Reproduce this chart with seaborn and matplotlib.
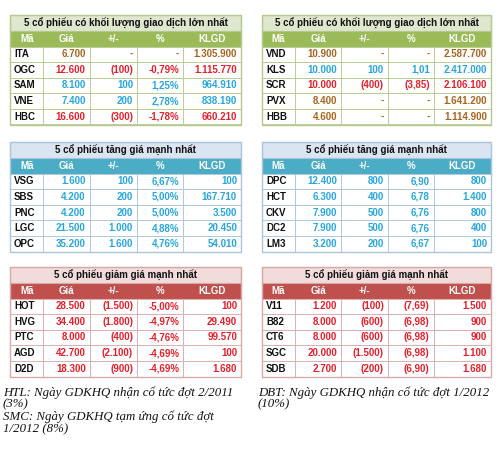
import matplotlib.pyplot as plt
import seaborn as sns
from matplotlib.patches import Rectangle

sns.set_theme(style="white")
plt.rcParams['font.family'] = ['Liberation Sans', 'DejaVu Sans']

# ---- data ----
headers = ["Mã", "Giá", "+/-", "%", "KLGD"]

t1_title = "5 cổ phiếu có khối lượng giao dịch lớn nhất"
t1_left = [["ITA", "6.700", "-", "-", "1.305.900", "ref"],
           ["OGC", "12.600", "(100)", "-0,79%", "1.115.770", "dn"],
           ["SAM", "8.100", "100", "1,25%", "964.910", "up"],
           ["VNE", "7.400", "200", "2,78%", "838.190", "up"],
           ["HBC", "16.600", "(300)", "-1,78%", "660.210", "dn"]]
t1_right = [["VND", "10.900", "-", "-", "2.587.700", "ref"],
            ["KLS", "10.000", "100", "1,01", "2.417.000", "up"],
            ["SCR", "10.000", "(400)", "(3,85)", "2.106.100", "dn"],
            ["PVX", "8.400", "-", "-", "1.641.200", "ref"],
            ["HBB", "4.600", "-", "-", "1.114.900", "ref"]]

t2_title = "5 cổ phiếu tăng giá mạnh nhất"
t2_left = [["VSG", "1.600", "100", "6,67%", "100", "up"],
           ["SBS", "4.200", "200", "5,00%", "167.710", "up"],
           ["PNC", "4.200", "200", "5,00%", "3.500", "up"],
           ["LGC", "21.500", "1.000", "4,88%", "20.450", "up"],
           ["OPC", "35.200", "1.600", "4,76%", "54.010", "up"]]
t2_right = [["DPC", "12.400", "800", "6,90", "800", "up"],
            ["HCT", "6.300", "400", "6,78", "1.400", "up"],
            ["CKV", "7.900", "500", "6,76", "800", "up"],
            ["DC2", "7.900", "500", "6,76", "400", "up"],
            ["LM3", "3.200", "200", "6,67", "100", "up"]]

t3_title = "5 cổ phiếu giảm giá mạnh nhất"
t3_left = [["HOT", "28.500", "(1.500)", "-5,00%", "100", "dn"],
           ["HVG", "34.400", "(1.800)", "-4,97%", "29.490", "dn"],
           ["PTC", "8.000", "(400)", "-4,76%", "99.570", "dn"],
           ["AGD", "42.700", "(2.100)", "-4,69%", "100", "dn"],
           ["D2D", "18.300", "(900)", "-4,69%", "1.680", "dn"]]
t3_right = [["V11", "1.200", "(100)", "(7,69)", "1.500", "dn"],
            ["B82", "8.000", "(600)", "(6,98)", "900", "dn"],
            ["CT6", "8.000", "(600)", "(6,98)", "900", "dn"],
            ["SGC", "20.000", "(1.500)", "(6,98)", "1.100", "dn"],
            ["SDB", "2.700", "(200)", "(6,90)", "1.680", "dn"]]

note_left = "HTL: Ngày GDKHQ nhận cổ tức đợt 2/2011\n(3%)\nSMC: Ngày GDKHQ tạm ứng cổ tức đợt\n1/2012 (8%)"
note_right = "DBT: Ngày GDKHQ nhận cổ tức đợt 1/2012\n(10%)"

# ---- styles ----
val_colors = {"ref": "#a8641c", "up": "#27a6df", "dn": "#e51f2b"}
themes = {"green": ("#dfe7cf", "#9bbb59", "#b5c98e"),
          "blue": ("#dbe5f1", "#4bacc6", "#a9c4dc"),
          "red": ("#f2dcdb", "#c0504d", "#d9a9a8")}
col_frac = [0, .145, .345, .55, .75, 1]

fig = plt.figure(figsize=(5, 4.5), dpi=100)
ax = fig.add_axes([0, 0, 1, 1])
ax.set_xlim(0, 500)
ax.set_ylim(450, 0)
ax.axis("off")


def draw_table(x0, x1, y0, title, rows, theme):
    title_bg, head_bg, line = themes[theme]
    w = x1 - x0
    th, hh, rh = 16, 15.5, 15.6
    xs = [x0 + f * w for f in col_frac]
    ax.add_patch(Rectangle((x0, y0), w, th, fc=title_bg, ec=line, lw=0.8))
    ax.text((x0 + x1) / 2, y0 + th / 2, title, ha="center", va="center",
            fontsize=7, fontweight="bold", color="#111111")
    yh = y0 + th
    ax.add_patch(Rectangle((x0, yh), w, hh, fc=head_bg, ec=line, lw=0.8))
    for i, h in enumerate(headers):
        ax.text((xs[i] + xs[i + 1]) / 2, yh + hh / 2, h, ha="center",
                va="center", fontsize=7, fontweight="bold", color="white")
    for r, row in enumerate(rows):
        yr = yh + hh + r * rh
        for c in range(5):
            ax.add_patch(Rectangle((xs[c], yr), xs[c + 1] - xs[c], rh,
                                   fc="white", ec=line, lw=0.6))
            if c == 0:
                ax.text(xs[c] + 4, yr + rh / 2, row[c], ha="left", va="center",
                        fontsize=7, fontweight="bold", color="#111111")
            else:
                ax.text(xs[c + 1] - 4, yr + rh / 2, row[c], ha="right",
                        va="center", fontsize=7, fontweight="bold",
                        color=val_colors[row[5]])
    ax.add_patch(Rectangle((x0, y0), w, th + hh + 5 * rh, fc="none",
                           ec=line, lw=1.0))


draw_table(10, 241, 15, t1_title, t1_left, "green")
draw_table(262, 491, 15, t1_title, t1_right, "green")
draw_table(10, 241, 142, t2_title, t2_left, "blue")
draw_table(262, 491, 142, t2_title, t2_right, "blue")
draw_table(10, 241, 267, t3_title, t3_left, "red")
draw_table(262, 491, 267, t3_title, t3_right, "red")

ax.text(3, 386, note_left, ha="left", va="top", fontsize=9.3,
        family="Liberation Serif", style="italic", color="#111111",
        linespacing=1.0)
ax.text(258, 386, note_right, ha="left", va="top", fontsize=9.3,
        family="Liberation Serif", style="italic", color="#111111",
        linespacing=1.0)

fig.savefig("out.png", dpi=100, facecolor="white")
